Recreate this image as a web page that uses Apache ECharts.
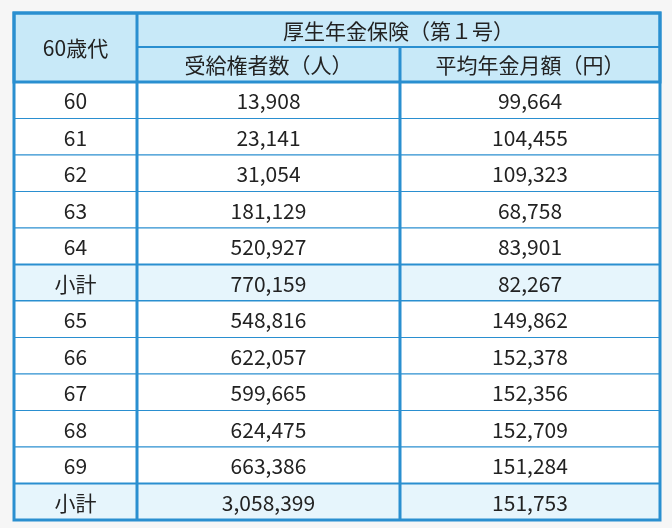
<!DOCTYPE html>
<html><head><meta charset="utf-8">
<script src="https://cdn.jsdelivr.net/npm/echarts@6/dist/echarts.min.js"></script>
<style>html,body{margin:0;background:#f6f6f6}#c{width:672px;height:528px}</style>
</head><body><div id="c"></div>
<script>
var ages = ['60','61','62','63','64','小計','65','66','67','68','69','小計'];
var recipients = ['13,908','23,141','31,054','181,129','520,927','770,159','548,816','622,057','599,665','624,475','663,386','3,058,399'];
var avgPension = ['99,664','104,455','109,323','68,758','83,901','82,267','149,862','152,378','152,356','152,709','151,284','151,753'];
var headTop = '厚生年金保険（第１号）';
var headCols = ['60歳代','受給権者数（人）','平均年金月額（円）'];

var colEdges = [0, 123, 386, 646];
var rowEdges = [0, 34, 69];
for (var i = 1; i <= ages.length; i++) rowEdges.push(69 + i * (438 / ages.length));

var HEAD = '#c8e9f8', SUB = '#e6f5fc', LINE = '#2a8fd0';
var cells = [];
cells.push([colEdges[0], colEdges[1], rowEdges[0], rowEdges[2], headCols[0], HEAD, 2]);
cells.push([colEdges[1], colEdges[3], rowEdges[0], rowEdges[1], headTop, HEAD, 2]);
cells.push([colEdges[1], colEdges[2], rowEdges[1], rowEdges[2], headCols[1], HEAD, 2]);
cells.push([colEdges[2], colEdges[3], rowEdges[1], rowEdges[2], headCols[2], HEAD, 2]);
ages.forEach(function (a, r) {
  var fill = a === '小計' ? SUB : '#ffffff';
  var w = a === '小計' ? 2 : 1;
  [a, recipients[r], avgPension[r]].forEach(function (t, c) {
    cells.push([colEdges[c], colEdges[c + 1], rowEdges[r + 2], rowEdges[r + 3], t, fill, w]);
  });
});

var chart = echarts.init(document.getElementById('c'));
chart.setOption({
  backgroundColor: '#f6f6f6',
  animation: false,
  grid: { left: 14, top: 13, width: 646, height: 507 },
  xAxis: { type: 'value', min: 0, max: 646, show: false },
  yAxis: { type: 'value', min: 0, max: 507, inverse: true, show: false },
  series: [{
    type: 'custom',
    data: cells,
    renderItem: function (params, api) {
      var p0 = api.coord([api.value(0), api.value(2)]);
      var p1 = api.coord([api.value(1), api.value(3)]);
      var d = cells[params.dataIndex];
      return {
        type: 'group',
        children: [{
          type: 'rect',
          shape: { x: p0[0], y: p0[1], width: p1[0] - p0[0], height: p1[1] - p0[1] },
          style: { fill: d[5], stroke: LINE, lineWidth: d[6] }
        }, {
          type: 'text',
          style: {
            text: d[4], x: (p0[0] + p1[0]) / 2, y: (p0[1] + p1[1]) / 2 + 1,
            align: 'center', verticalAlign: 'middle', fill: '#222',
            font: '21px "Noto Sans CJK JP", "Noto Sans", sans-serif'
          }
        }]
      };
    }
  }, {
    type: 'custom',
    data: [[0, 646, 0, 507], [0, 646, 0, 69], [123, 123, 0, 507], [386, 386, 34, 507]],
    z: 3,
    renderItem: function (params, api) {
      var p0 = api.coord([api.value(0), api.value(2)]);
      var p1 = api.coord([api.value(1), api.value(3)]);
      return {
        type: 'rect',
        shape: { x: p0[0], y: p0[1], width: p1[0] - p0[0], height: p1[1] - p0[1] },
        style: { fill: 'none', stroke: LINE, lineWidth: 3 }
      };
    }
  }]
});
</script></body></html>
